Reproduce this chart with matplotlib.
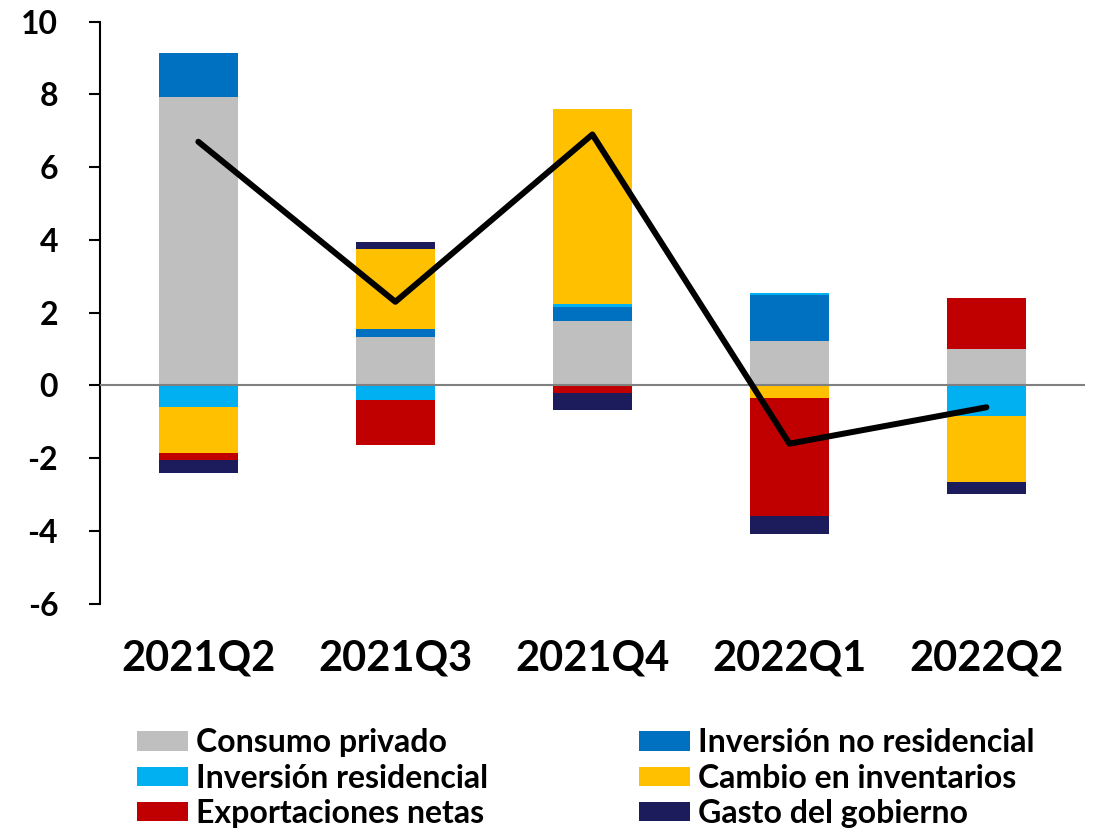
import numpy as np
import matplotlib
matplotlib.use('Agg')
import matplotlib.pyplot as plt

plt.rcParams['font.family'] = ['Lato', 'DejaVu Sans']
plt.rcParams['font.weight'] = 'bold'
plt.rcParams['axes.unicode_minus'] = False

quarters = ['2021Q2', '2021Q3', '2021Q4', '2022Q1', '2022Q2']

consumo = [7.93, 1.34, 1.76, 1.23, 1.00]
inv_no_res = [1.21, 0.21, 0.40, 1.27, 0.0]
inv_res = [-0.60, -0.39, 0.08, 0.03, -0.83]
inventarios = [-1.26, 2.20, 5.36, -0.35, -1.83]
exportaciones = [-0.19, -1.25, -0.22, -3.24, 1.41]
gasto = [-0.35, 0.19, -0.45, -0.49, -0.32]
pib = [6.7, 2.3, 6.9, -1.6, -0.6]

series = [
    ('Consumo privado', consumo, '#BFBFBF'),
    ('Inversión no residencial', inv_no_res, '#0070C0'),
    ('Inversión residencial', inv_res, '#00B0F0'),
    ('Cambio en inventarios', inventarios, '#FFC000'),
    ('Exportaciones netas', exportaciones, '#C00000'),
    ('Gasto del gobierno', gasto, '#1C1C5C'),
]

fig = plt.figure(figsize=(10.97, 8.35), dpi=100)
ax = fig.add_axes([0.091, 0.277, 0.898, 0.697])

X = np.arange(len(quarters))
pos_bottom = np.zeros(len(quarters))
neg_bottom = np.zeros(len(quarters))
handles = {}
for name, vals, col in series:
    vals = np.array(vals)
    bottoms = np.where(vals >= 0, pos_bottom, neg_bottom)
    b = ax.bar(X, vals, width=0.4, bottom=bottoms, color=col, label=name, zorder=2)
    handles[name] = b
    pos_bottom += np.where(vals >= 0, vals, 0)
    neg_bottom += np.where(vals < 0, vals, 0)

ax.axhline(0, color='#808080', lw=1.5, zorder=3)
ax.plot(X, pib, color='black', lw=4.3, zorder=4, solid_capstyle='round')

ax.set_xlim(-0.5, 4.5)
ax.set_ylim(-6, 10)
ax.set_yticks(range(-6, 11, 2))
ax.set_xticks(X)
ax.set_xticklabels(quarters, fontsize=30, fontweight='bold')
ax.tick_params(axis='x', length=0, pad=26)
ax.tick_params(axis='y', labelsize=23, width=1.5, length=8, direction='out', pad=22)
for lbl in ax.get_yticklabels():
    lbl.set_fontweight('bold')
for s in ['top', 'right', 'bottom']:
    ax.spines[s].set_visible(False)
ax.spines['left'].set_linewidth(1.5)

# legend fills column by column, so order for row layout
order = ['Consumo privado', 'Inversión residencial', 'Exportaciones netas',
         'Inversión no residencial', 'Cambio en inventarios', 'Gasto del gobierno']
leg = fig.legend([handles[n] for n in order], order, loc='lower left',
                 bbox_to_anchor=(0.099, -0.026), ncol=2, frameon=False,
                 prop={'size': 23, 'weight': 'bold'}, handlelength=1.6,
                 handleheight=0.55, handletextpad=0.25, columnspacing=4.7,
                 labelspacing=0.2)

fig.savefig('out.png', dpi=100)
